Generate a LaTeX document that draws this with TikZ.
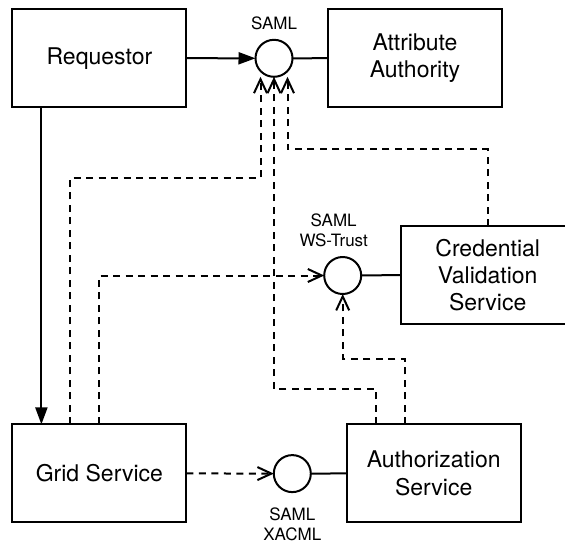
\documentclass[tikz,border=0pt]{standalone}
\usepackage{fontspec}
\setmainfont{TeX Gyre Heros}
\usetikzlibrary{arrows.meta,positioning}

\begin{document}
\begin{tikzpicture}[x=1pt,y=-1pt,inner sep=0pt,outer sep=0pt,line width=2pt,
sysblock/.style={draw,rectangle,align=center,minimum width=174pt,minimum height=98pt,font=\fontsize{23}{27.3}\selectfont},
port/.style={draw,circle,minimum size=37pt},
portlabel/.style={align=center,font=\fontsize{17}{20}\selectfont},
reqline/.style={-{Triangle[length=17pt,width=12pt]}},
dashline/.style={dash pattern=on 7pt off 5.5pt,-{Straight Barb[length=14pt,width=13pt]}}]
\clip (0,0) rectangle (565,547);
\draw (99.4,58.2) node[sysblock] (R) {Requestor};
\draw (415,58.2) node[sysblock] (AA) {Attribute\\Authority};
\draw (487.7,275) node[sysblock] (CV) {Credential\\Validation\\Service};
\draw (99.4,473.4) node[sysblock] (GS) {Grid Service};
\draw (433.7,473.4) node[sysblock] (AS) {Authorization\\Service};
% SAML ports
\draw (274,58.3) node[port] (S1) {};
\draw (342.7,275.5) node[port] (S2) {};
\draw (292.3,473.6) node[port] (S3) {};
\node[portlabel,above=10pt of S1] (L1) {SAML};
\node[portlabel,above=10pt of S2,xshift=-9pt] (L2) {SAML\\WS-Trust};
\node[portlabel,below=16pt of S3] (L3) {SAML\\XACML};
\draw[reqline] (R.east) -- (S1.west);
\draw (S1.east) -- (AA.west);
\draw[reqline] ([xshift=-58pt]R.south) -- ([xshift=-58pt]GS.north);
\draw (S2.east) -- (CV.west);
\draw (S3.east) -- (AS.west);
% dashed requests
\draw[dashline] (GS.east) -- (S3.west);
\draw[dashline] (GS.north) |- (S2.west);
\draw[dashline] ([xshift=-29pt]GS.north) -- ++(0,-246.7) -| ([xshift=-13.5pt]S1.south);
\draw[dashline] ([xshift=-58pt]AS.north) -- ++(0,-35.7) -| (S1.south);
\draw[dashline] (CV.north) -- ++(0,-76.7) -| ([xshift=13.5pt]S1.south);
\draw[dashline] ([xshift=-29pt]AS.north) -- ++(0,-65.7) -| (S2.south);
\end{tikzpicture}
\end{document}
